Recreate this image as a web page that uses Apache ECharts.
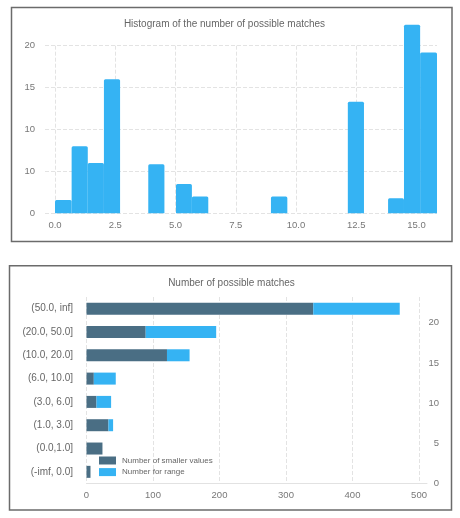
<!DOCTYPE html>
<html>
<head>
<meta charset="utf-8">
<script src="https://cdn.jsdelivr.net/npm/echarts@6/dist/echarts.min.js"></script>
<style>
html,body{margin:0;padding:0;background:#fff;}
#c{width:460px;height:518px;}
</style>
</head>
<body>
<div id="c"></div>
<script>
// ---- Top chart: histogram ----
const histTitle = 'Histogram of the number of possible matches';
const histStart = [0, 0.69, 1.36, 2.03, 3.87, 5.02, 5.68, 8.96, 12.15, 13.82, 14.48, 15.15];
const histEnd   = [0.69, 1.36, 2.03, 2.70, 4.54, 5.68, 6.36, 9.64, 12.82, 14.48, 15.15, 15.85];
const histCount = [1.6, 8, 6, 16, 5.85, 3.5, 2, 2, 13.3, 1.8, 22.5, 19.2];
const histXTickLabels = ['0.0', '2.5', '5.0', '7.5', '10.0', '12.5', '15.0'];
const histYTickLabels = ['0', '10', '10', '15', '20'];

// ---- Bottom chart: stacked horizontal bars ----
const barTitle = 'Number of possible matches';
const ranges = ['(50.0, inf]', '(20.0, 50.0]', '(10.0, 20.0]', '(6.0, 10.0]', '(3.0, 6.0]', '(1.0, 3.0]', '(0.0,1.0]', '(-imf, 0.0]'];
const smallerValues = [341, 89, 121, 11, 15, 33, 24, 6];
const rangeValues   = [130, 106, 34, 33, 22, 7, 0, 0];
const seriesNames = ['Number of smaller values', 'Number for range'];
const barXTickLabels = ['0', '100', '200', '300', '400', '500'];
const rightTickLabels = ['0', '5', '10', '15', '20'];

const FONT = 'Liberation Sans, Arial, Helvetica, sans-serif';
const LIGHT = '#35b3f3';
const DARK = '#4a6e84';
const GRIDC = '#e3e3e3';

const histData = histStart.map((s, i) => [s, histEnd[i], histCount[i]]);

const chart = echarts.init(document.getElementById('c'), null, {renderer: 'canvas'});

chart.setOption({
  animation: false,
  textStyle: {fontFamily: FONT},
  title: [
    {text: histTitle, left: 224.5, top: 19.5, textAlign: 'center', padding: 0,
     textStyle: {fontSize: 10, fontWeight: 'normal', color: '#666', fontFamily: FONT}},
    {text: barTitle, left: 231.5, top: 278, textAlign: 'center', padding: 0,
     textStyle: {fontSize: 10, fontWeight: 'normal', color: '#666', fontFamily: FONT}}
  ],
  legend: {
    data: seriesNames,
    orient: 'vertical',
    left: 99, top: 456.5, padding: 0,
    itemWidth: 17, itemHeight: 8, itemGap: 3.6,
    icon: 'rect',
    textStyle: {fontSize: 8, color: '#666', fontFamily: FONT, padding: [0, 0, 0, 1]}
  },
  graphic: [
    {type: 'rect', shape: {x: 11.5, y: 7.5, width: 440.5, height: 234}, style: {fill: 'none', stroke: '#6b6b6b', lineWidth: 1.5}, z: 100},
    {type: 'rect', shape: {x: 9.5, y: 265.7, width: 442, height: 244.3}, style: {fill: 'none', stroke: '#6b6b6b', lineWidth: 1.5}, z: 100}
  ],
  grid: [
    {left: 45, right: 23, top: 45.7, bottom: 518 - 213.3},
    {left: 86.5, right: 33, top: 297, bottom: 518 - 483.5}
  ],
  xAxis: [
    {
      type: 'value', gridIndex: 0, min: -0.415, max: 15.85,
      minInterval: 2.5, maxInterval: 2.5,
      axisLine: {show: false}, axisTick: {show: false},
      axisLabel: {color: '#777', fontSize: 9.5, margin: 7, showMinLabel: false, showMaxLabel: false,
        formatter: v => { const i = Math.round(v / 2.5); return Math.abs(v - i * 2.5) < 1e-6 ? (histXTickLabels[i] || '') : ''; }},
      splitLine: {show: true, showMinLine: false, showMaxLine: false, lineStyle: {type: 'dashed', color: GRIDC}}
    },
    {
      type: 'value', gridIndex: 1, min: 0, max: 512, interval: 100,
      axisLine: {show: true, lineStyle: {color: '#e2e2e2'}}, axisTick: {show: false},
      axisLabel: {color: '#777', fontSize: 9.5, margin: 6.5, showMaxLabel: false,
        formatter: v => { const i = Math.round(v / 100); return Math.abs(v - i * 100) < 1e-6 ? (barXTickLabels[i] || '') : ''; }},
      splitLine: {show: true, showMaxLine: false, lineStyle: {type: 'dashed', color: GRIDC}}
    }
  ],
  yAxis: [
    {
      type: 'value', gridIndex: 0, min: 0, max: 20, interval: 5,
      axisLine: {show: false}, axisTick: {show: false},
      axisLabel: {color: '#777', fontSize: 9.5, margin: 10,
        formatter: v => histYTickLabels[Math.round(v / 5)] || ''},
      splitLine: {show: true, lineStyle: {type: 'dashed', color: GRIDC}}
    },
    {
      type: 'category', gridIndex: 1, data: ranges, inverse: true,
      axisLine: {show: false}, axisTick: {show: false},
      axisLabel: {color: '#666', fontSize: 10, margin: 13.5},
      splitLine: {show: false}
    },
    {
      type: 'value', gridIndex: 1, position: 'right', min: 0, max: 23.2, interval: 5,
      axisLine: {show: false}, axisTick: {show: false},
      axisLabel: {color: '#777', fontSize: 9.5, margin: 12, align: 'right', showMaxLabel: false,
        formatter: v => { const i = Math.round(v / 5); return Math.abs(v - i * 5) < 1e-6 ? (rightTickLabels[i] || '') : ''; }},
      splitLine: {show: false}
    }
  ],
  series: [
    {
      type: 'custom', xAxisIndex: 0, yAxisIndex: 0, clip: false,
      data: histData,
      encode: {x: [0, 1], y: 2},
      renderItem: (params, api) => {
        const p0 = api.coord([api.value(0), api.value(2)]);
        const p1 = api.coord([api.value(1), 0]);
        return {
          type: 'rect',
          shape: {x: p0[0], y: p0[1], width: p1[0] - p0[0], height: p1[1] - p0[1], r: [1.5, 1.5, 0, 0]},
          style: {fill: LIGHT}
        };
      }
    },
    {
      name: seriesNames[0], type: 'bar', xAxisIndex: 1, yAxisIndex: 1, stack: 'total',
      data: smallerValues, barWidth: 12, itemStyle: {color: DARK}
    },
    {
      name: seriesNames[1], type: 'bar', xAxisIndex: 1, yAxisIndex: 1, stack: 'total',
      data: rangeValues, barWidth: 12, itemStyle: {color: LIGHT}
    }
  ]
});
</script>
</body>
</html>
